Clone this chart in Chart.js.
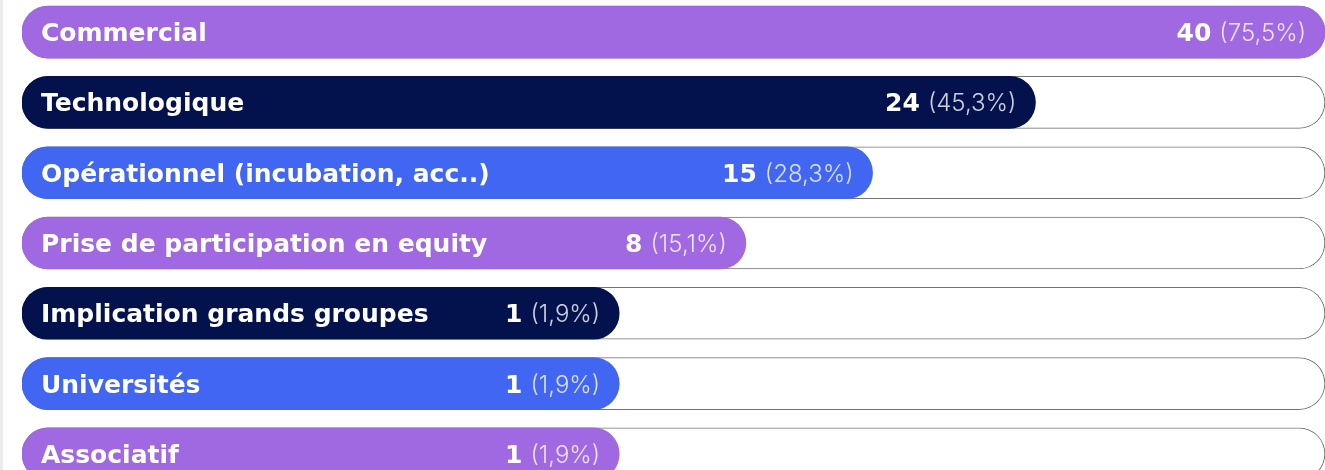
<!DOCTYPE html>
<html>
<head>
<meta charset="utf-8">
<script src="https://cdn.jsdelivr.net/npm/chart.js@4"></script>
<style>
  html, body { margin: 0; padding: 0; background: #ffffff; overflow: hidden; width: 1325px; height: 470px; }
  #wrap { position: absolute; left: 0; top: -3px; width: 1325px; height: 492px; }
  #edge { position: absolute; left: 0; top: 0; width: 3px; height: 470px; background: #ececec; }
</style>
</head>
<body>
<div id="wrap"><canvas id="chart"></canvas></div>
<div id="edge"></div>
<script>
// Types de soutien cités par les répondants
const categories = [
  'Commercial',
  'Technologique',
  'Opérationnel (incubation, acc..)',
  'Prise de participation en equity',
  'Implication grands groupes',
  'Universités',
  'Associatif'
];
const counts = [40, 24, 15, 8, 1, 1, 1];
const percentLabels = ['75,5%', '45,3%', '28,3%', '15,1%', '1,9%', '1,9%', '1,9%'];
const barColors = ['#a069e2', '#03124d', '#4166f2', '#a069e2', '#03124d', '#4166f2', '#a069e2'];

// Bars start inside a reserved label zone on the left of the value axis
const AXIS_MIN = -32;
const AXIS_MAX = Math.max(...counts);
const trackValues = counts.map(() => AXIS_MAX);

const LABEL_FONT = 'bold 25px "DejaVu Sans"';
const COUNT_FONT = 'bold 25px "DejaVu Sans"';
const PCT_FONT = '300 24px Inter, Lato, sans-serif';

const barLabels = {
  id: 'barLabels',
  afterDatasetsDraw(chart) {
    const ctx = chart.ctx;
    const meta = chart.getDatasetMeta(1);
    const left = chart.chartArea.left;
    ctx.save();
    ctx.textBaseline = 'alphabetic';
    meta.data.forEach((bar, i) => {
      const base = bar.y + 9;
      // category name
      ctx.font = LABEL_FONT;
      ctx.fillStyle = '#ffffff';
      ctx.textAlign = 'left';
      ctx.fillText(categories[i], left + 19, base);
      // count and share, right-aligned at the bar end
      const end = bar.x - 19;
      const pct = '(' + percentLabels[i] + ')';
      ctx.font = PCT_FONT;
      const pctW = ctx.measureText(pct).width;
      ctx.textAlign = 'right';
      ctx.fillStyle = 'rgba(255,255,255,0.8)';
      ctx.fillText(pct, end, base);
      ctx.font = COUNT_FONT;
      ctx.fillStyle = '#ffffff';
      ctx.fillText(String(counts[i]), end - pctW - 8, base);
    });
    ctx.restore();
  }
};

new Chart(document.getElementById('chart'), {
  type: 'bar',
  data: {
    labels: categories,
    datasets: [
      {
        label: 'track',
        data: trackValues,
        base: AXIS_MIN,
        backgroundColor: '#ffffff',
        borderColor: '#737373',
        borderWidth: 1,
        borderRadius: 26,
        borderSkipped: false,
        barThickness: 52,
        grouped: false,
        order: 2
      },
      {
        label: 'Répondants',
        data: counts,
        base: AXIS_MIN,
        backgroundColor: barColors,
        borderWidth: 0,
        borderRadius: 26,
        borderSkipped: false,
        barThickness: 52,
        grouped: false,
        order: 1
      }
    ]
  },
  options: {
    indexAxis: 'y',
    responsive: true,
    maintainAspectRatio: false,
    animation: false,
    layout: { padding: { left: 22, right: 0, top: 0, bottom: 0 } },
    scales: {
      x: { display: false, min: AXIS_MIN, max: AXIS_MAX },
      y: { display: false, offset: true }
    },
    plugins: {
      legend: { display: false },
      tooltip: { enabled: false }
    }
  },
  plugins: [barLabels]
});
</script>
</body>
</html>
